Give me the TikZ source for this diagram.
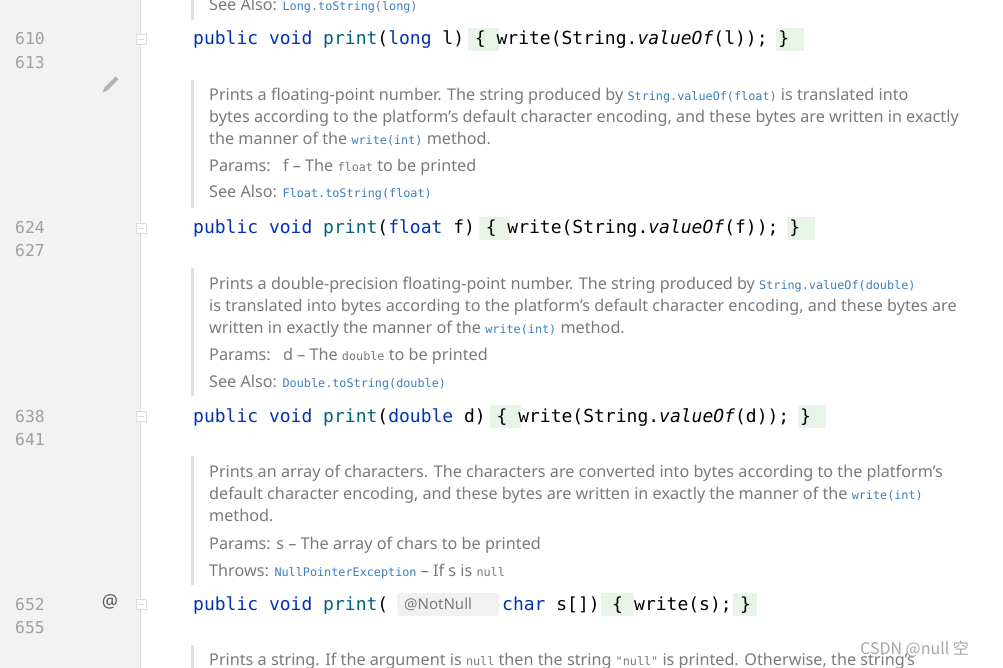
\documentclass[tikz,border=0pt]{standalone}
\usepackage{fontspec}
\setmainfont{Noto Sans}
\newfontfamily\cjk{Noto Sans CJK SC}
\newfontfamily\cmono{DejaVu Sans Mono}
\definecolor{gut}{HTML}{F2F2F2}
\definecolor{gutline}{HTML}{DCDCDC}
\definecolor{lnum}{HTML}{A0A0A0}
\definecolor{kw}{HTML}{0033B3}
\definecolor{fn}{HTML}{00627A}
\definecolor{doc}{HTML}{7A7A7A}
\definecolor{lnk}{HTML}{3A7FC0}
\definecolor{hlg}{HTML}{E8F4E8}
\definecolor{bar}{HTML}{E0E0E0}
\definecolor{inl}{HTML}{F1F1F1}
\newcommand{\cf}{\cmono\fontsize{18.0}{20}\selectfont}
\newcommand{\lm}[1]{{\cmono\fontsize{11.8}{13}\selectfont\textcolor{lnk}{#1}}}
\newcommand{\im}[1]{{\cmono\fontsize{11.8}{13}\selectfont #1}}
\begin{document}
\begin{tikzpicture}[x=1pt,y=-1pt,
  lnumst/.style={anchor=base west,inner sep=0,text=lnum,font=\cmono\fontsize{16.4}{18}\selectfont},
  docst/.style={anchor=base west,inner sep=0,text=doc,font=\fontsize{16.2}{18}\selectfont},
  codest/.style={anchor=base west,inner sep=0,font=\cf},
  foldst/.style={draw=gutline,fill=white,line width=0.8pt}]
\useasboundingbox (0,0) rectangle (1003,668);
\fill[white] (0,0) rectangle (1003,668);
\fill[gut] (0,0) rectangle (140,668);
\draw[gutline,line width=1pt] (140.5,0) -- (140.5,668);
% doc bars
\fill[bar] (191,0) rectangle (194,20);
\fill[bar] (191,80) rectangle (194,208);
\fill[bar] (191,268) rectangle (194,396);
\fill[bar] (191,456) rectangle (194,585);
\fill[bar] (191,645) rectangle (194,668);
% highlight boxes (char width 11)
\fill[hlg] (193+25*11,28) rectangle (193+27.8*11,51);
\fill[hlg] (193+53*11,28) rectangle (193+55.5*11,51);
\fill[hlg] (193+26*11,217) rectangle (193+28.8*11,240);
\fill[hlg] (193+54*11,217) rectangle (193+56.5*11,240);
\fill[hlg] (193+27*11,405) rectangle (193+29.8*11,428);
\fill[hlg] (193+55*11,405) rectangle (193+57.5*11,428);
\fill[hlg] (601,593) rectangle (634,616);
\fill[hlg] (733,593) rectangle (757,616);
\fill[inl,rounded corners=3pt] (397,593) rectangle (499,616);
% line numbers
\node[lnumst] (n610) at (15,45) {610};
\node[lnumst] (n613) at (15,69) {613};
\node[lnumst] (n624) at (15,234) {624};
\node[lnumst] (n627) at (15,257) {627};
\node[lnumst] (n638) at (15,422) {638};
\node[lnumst] (n641) at (15,445) {641};
\node[lnumst] (n652) at (15,610) {652};
\node[lnumst] (n655) at (15,633) {655};
% fold markers
\foreach \yy in {39,228,416,604}{
  \draw[foldst] (136,\yy-5) rectangle (146,\yy+5);
  \draw[gutline,line width=0.8pt] (138,\yy) -- (144,\yy);
}
% pencil
\draw[lnum!80,line width=4pt] (117,78) -- (106,89);
\fill[lnum!80] (104.5,87.5) -- (107.5,90.5) -- (102.5,92.5) -- cycle;
\node[anchor=center,inner sep=0,text=black!65,font=\fontsize{18}{20}\selectfont\bfseries] (at) at (110,602) {@};
% code lines
\node[codest] (c610) at (193,45) {\textcolor{kw}{public void} \textcolor{fn}{print}(\textcolor{kw}{long} l) \{ write(String.\textit{valueOf}(l)); \}};
\node[codest] (c624) at (193,234) {\textcolor{kw}{public void} \textcolor{fn}{print}(\textcolor{kw}{float} f) \{ write(String.\textit{valueOf}(f)); \}};
\node[codest] (c638) at (193,422) {\textcolor{kw}{public void} \textcolor{fn}{print}(\textcolor{kw}{double} d) \{ write(String.\textit{valueOf}(d)); \}};
\node[codest] (c652a) at (193,610) {\textcolor{kw}{public void} \textcolor{fn}{print}(};
\node[anchor=base west,inner sep=0,text=doc,font=\fontsize{15}{17}\selectfont] (inlay) at (404,609) {@NotNull};
\node[codest] (c652b) at (502,610) {\textcolor{kw}{char} s[])};
\node[codest] (c652c) at (612,610) {\{};
\node[codest] (c652d) at (634,610) {write(s);};
\node[codest] (c652e) at (740,610) {\}};
% doc texts
\node[docst] (d0) at (209,11) {See Also: \lm{Long.toString(long)}};
\node[docst] (d21) at (209,101) {Prints a floating-point number. The string produced by \lm{String.valueOf(float)} is translated into};
\node[docst] (d22) at (209,123) {bytes according to the platform's default character encoding, and these bytes are written in exactly};
\node[docst] (d23) at (209,145) {the manner of the \lm{write(int)} method.};
\node[docst] (d24) at (209,172) {Params:\enspace\ f -- The \im{float} to be printed};
\node[docst] (d25) at (209,198) {See Also: \lm{Float.toString(float)}};
\node[docst] (d31) at (209,289) {Prints a double-precision floating-point number. The string produced by \lm{String.valueOf(double)}};
\node[docst] (d32) at (209,311) {is translated into bytes according to the platform's default character encoding, and these bytes are};
\node[docst] (d33) at (209,333) {written in exactly the manner of the \lm{write(int)} method.};
\node[docst] (d34) at (209,360) {Params:\enspace\ d -- The \im{double} to be printed};
\node[docst] (d35) at (209,387) {See Also: \lm{Double.toString(double)}};
\node[docst] (d41) at (209,477) {Prints an array of characters. The characters are converted into bytes according to the platform's};
\node[docst] (d42) at (209,499) {default character encoding, and these bytes are written in exactly the manner of the \lm{write(int)}};
\node[docst] (d43) at (209,521) {method.};
\node[docst] (d44) at (209,549) {Params: s -- The array of chars to be printed};
\node[docst] (d45) at (209,576) {Throws: \lm{NullPointerException} -- If s is \im{null}};
\node[docst] (d51) at (209,665) {Prints a string. If the argument is \im{null} then the string \im{"null"} is printed. Otherwise, the string's};
% watermark
\node[anchor=base west,inner sep=0,text=black!35,font=\cjk\fontsize{16}{18}\selectfont] (wm) at (860,654) {CSDN @null 空};
\end{tikzpicture}
\end{document}
